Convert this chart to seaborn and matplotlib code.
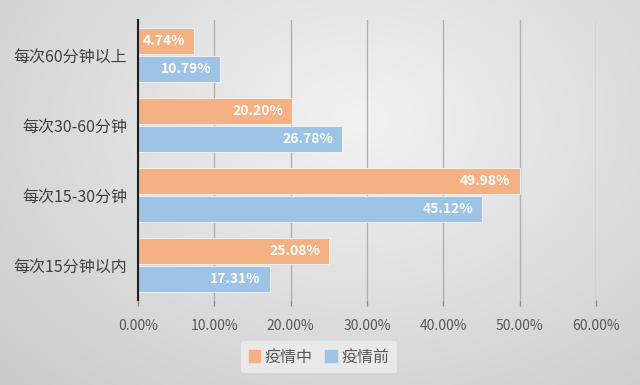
import numpy as np
import pandas as pd
import matplotlib
matplotlib.use("Agg")
import matplotlib.pyplot as plt
import seaborn as sns

categories = ["每次60分钟以上", "每次30-60分钟", "每次15-30分钟", "每次15分钟以内"]
# bar lengths as drawn in the picture (the first orange bar is drawn longer than its label)
during = [7.4, 20.20, 49.98, 25.08]
before = [10.79, 26.78, 45.12, 17.31]
during_labels = ["4.74%", "20.20%", "49.98%", "25.08%"]
before_labels = ["10.79%", "26.78%", "45.12%", "17.31%"]
series = ["疫情中", "疫情前"]
colors = ["#F4B183", "#9DC3E6"]
xticks = [0, 10, 20, 30, 40, 50, 60]

df = pd.DataFrame({
    "cat": categories * 2,
    "val": during + before,
    "series": [series[0]] * 4 + [series[1]] * 4,
})

sns.set_theme(style="white")
plt.rcParams["font.family"] = ["Noto Sans CJK SC", "DejaVu Sans"]

fig = plt.figure(figsize=(6.4, 3.85), dpi=100)

# background radial gradient
bg = fig.add_axes([0, 0, 1, 1], zorder=-10)
yy, xx = np.mgrid[0:385, 0:640]
r = np.sqrt(((xx - 360) / 520.0) ** 2 + ((yy - 120) / 380.0) ** 2)
g = np.clip(0.95 - 0.16 * r, 0.78, 0.95)
bg.imshow(np.dstack([g, g, g]), aspect="auto", extent=[0, 1, 0, 1])
bg.axis("off")

ax = fig.add_axes([138 / 640, 1 - 300 / 385, (596 - 138) / 640, 280 / 385])
ax.patch.set_alpha(0)

sns.barplot(data=df, y="cat", x="val", hue="series", hue_order=series,
            palette=colors, saturation=1, orient="h", width=0.8, gap=0.1, ax=ax,
            edgecolor="#f5f5f5", linewidth=0.6, legend=True)

ax.set_xlim(0, 60)
ax.set_xticks(xticks)
ax.set_xticklabels([f"{v:.2f}%" for v in xticks], color="#595959", fontsize=10)
ax.set_xlabel("")
ax.set_ylabel("")
ax.tick_params(axis="y", length=0, labelsize=11.5, labelcolor="#404040", pad=8)
ax.tick_params(axis="x", length=4, color="#8c8c8c", width=1, pad=10, direction="out", bottom=True)
ax.grid(axis="x", color="#b0b0b0", linewidth=1)
ax.set_axisbelow(True)
for s in ["top", "right", "bottom"]:
    ax.spines[s].set_visible(False)
ax.spines["left"].set_color("#202020")
ax.spines["left"].set_linewidth(1.5)

for cont, labels in zip(ax.containers, [during_labels, before_labels]):
    for bar, lab in zip(cont, labels):
        w = bar.get_width()
        y = bar.get_y() + bar.get_height() / 2
        ax.text(w - 1.2, y, lab, ha="right", va="center",
                color="white", fontsize=10, fontweight="bold")

ax.legend_.remove()
handles = [plt.Rectangle((0, 0), 1, 1, color=c) for c in colors]
leg = fig.legend(handles, series, loc="center", bbox_to_anchor=(319 / 640, 1 - 357 / 385),
                 ncol=2, frameon=True, fontsize=11.5, handlelength=0.7, handleheight=0.7,
                 handletextpad=0.3, columnspacing=0.8, borderpad=0.5)
leg.get_frame().set_facecolor("#e9e9e9")
leg.get_frame().set_edgecolor("none")
leg.get_frame().set_alpha(1)
for t in leg.get_texts():
    t.set_color("#595959")

fig.savefig("out.png", dpi=100)
